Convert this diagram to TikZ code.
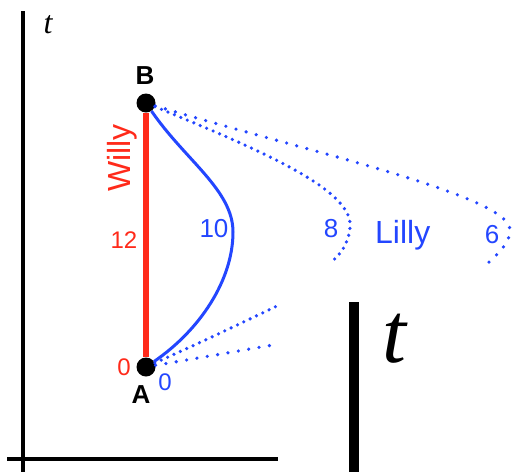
\documentclass[tikz,border=0pt]{standalone}
\usepackage{fontspec}
\setmainfont{Liberation Sans}
\newfontfamily\serifit{Liberation Serif}
\usepackage{tikz}
\usetikzlibrary{positioning}
\definecolor{cred}{HTML}{FF2A1A}
\definecolor{cblue}{HTML}{2346FF}

\begin{document}
\begin{tikzpicture}[x=1pt, y=-1pt,
  lbl/.style={inner sep=0pt, font=\fontsize{24}{24}\selectfont},
  event/.style={circle, fill=black, inner sep=0pt, minimum size=19pt},
  dotline/.style={cblue, line width=3.6pt, line cap=round, dash pattern=on 0pt off 10.5pt},
  densedots/.style={dotline, dash pattern=on 0pt off 7pt}]
  \useasboundingbox (0,0) rectangle (514,472);

  % Axes
  \draw[line width=3.5pt] (23,11) -- (23,472);
  \draw[line width=3.5pt] (7,459) -- (278,459);
  \node[inner sep=0pt, font=\serifit\itshape\fontsize{32}{32}\selectfont] (tsmall) at (48,25) {t};

  % Events
  \node[event] (B) at (146,103) {};
  \node[event] (A) at (146,367) {};
  \node[inner sep=0pt, font=\bfseries\fontsize{26}{26}\selectfont] (Blabel) at (145,76) {B};
  \node[inner sep=0pt, font=\bfseries\fontsize{26}{26}\selectfont] (Alabel) at (141,395) {A};

  % Willy
  \draw[cred, line width=5.5pt] (A) -- (B);
  \node[lbl, cred, rotate=90, font=\fontsize{32}{32}\selectfont] (willy) at (122,158) {Willy};
  \node[lbl, cred] (w12) at (124,240) {12};
  \node[lbl, cred] (w0) at (124,367) {0};

  % Lilly
  \draw[cblue, line width=3pt] (B) .. controls (185,160) and (233,190) .. (233,232)
    .. controls (233,280) and (200,330) .. (A);
  \coordinate (end8) at (330,263);
  \coordinate (end6) at (488,263);
  \coordinate (low8) at (277,306);
  \coordinate (low6) at (273,345);
  \draw[densedots] (B) .. controls (260,150) and (355,190) .. (350,228)
    .. controls (348,245) and (340,255) .. (end8);
  \draw[dotline] (B) .. controls (300,150) and (510,195) .. (510,230)
    .. controls (510,242) and (500,252) .. (end6);
  \draw[densedots] (A) .. controls (210,338) .. (low8);
  \draw[dotline] (A) -- (low6);
  \node[lbl, cblue, font=\fontsize{26}{26}\selectfont] (l10) at (214,229) {10};
  \node[lbl, cblue, font=\fontsize{26}{26}\selectfont] (l8) at (331,229) {8};
  \node[lbl, cblue, font=\fontsize{26}{26}\selectfont] (l6) at (492,235) {6};
  \node[lbl, cblue] (l0) at (165,382) {0};
  \node[lbl, cblue, anchor=base west, font=\fontsize{32}{32}\selectfont] (lilly) at (375,243) {Lilly};

  % Big t
  \draw[line width=10pt] (354,302) -- (354,472);
  \node[inner sep=0pt, font=\serifit\itshape\fontsize{86}{86}\selectfont] (tbig) at (394,339) {t};
\end{tikzpicture}
\end{document}
